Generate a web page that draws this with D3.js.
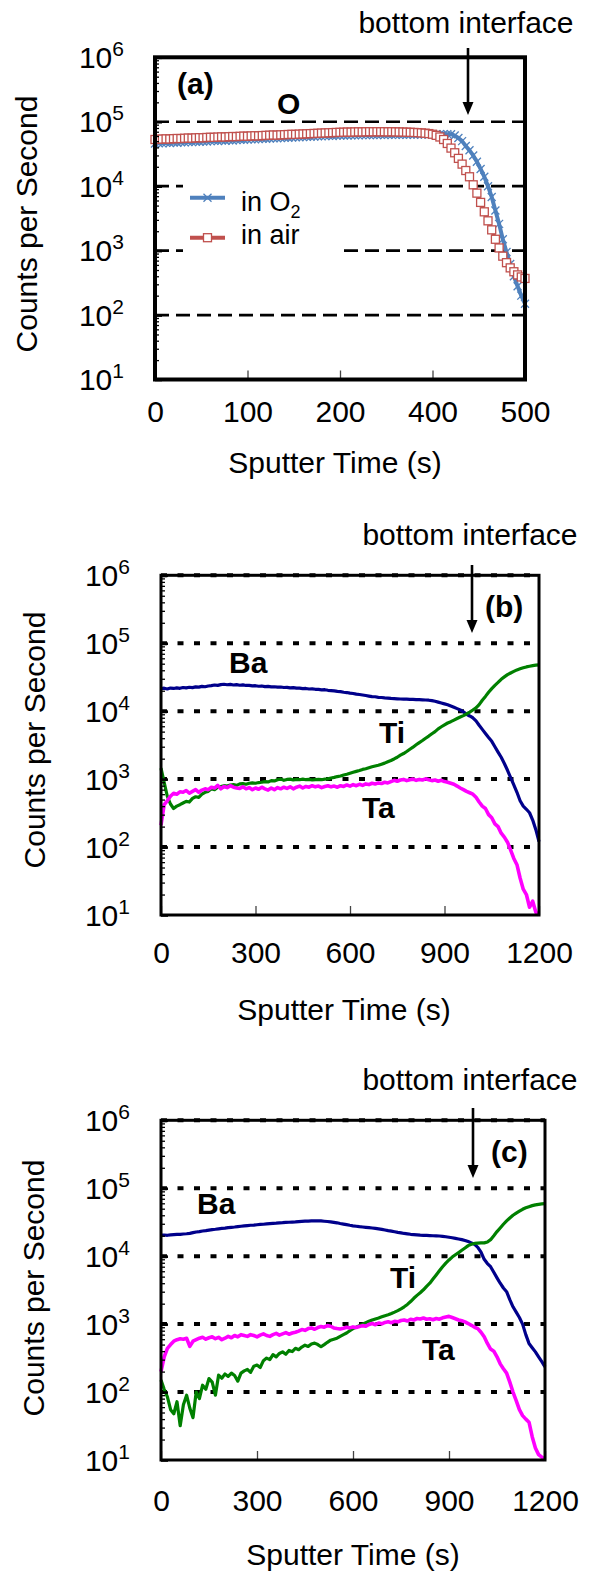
<!DOCTYPE html>
<html><head><meta charset="utf-8">
<script src="https://cdn.jsdelivr.net/npm/d3@7"></script>
<style>body{margin:0;background:#fff}svg{display:block}</style>
</head><body><svg id="chart" width="592" height="1575"></svg>
<script>
// ---------------- DATA ----------------
const tickLabelsA = ["0","100","200","400","500"];
const tickLabelsBC = ["0","300","600","900","1200"];
const yExponents = [1,2,3,4,5,6];
const axisTitleX = "Sputter Time (s)";
const axisTitleY = "Counts per Second";

const timeA = [0,5,10,15,20,25,30,35,40,45,50,55,60,65,70,75,80,85,90,95,100,105,110,115,120,125,130,135,140,145,150,155,160,165,170,175,180,185,190,195,200,205,210,215,220,225,230,235,240,245,250,255,260,265,270,275,280,285,290,295,300,305,310,315,320,325,330,335,340,345,350,355,360,365,370,375,380,385,390,395,400,405,410,415,420,425,430,435,440,445,450,455,460,465,470,475,480,485,490,495,500];
const oInO2 = [46000,46500,46200,47000,46800,47500,47300,48000,47800,48500,48300,
 49000,48800,49500,49300,50000,50500,50300,51000,50800,51500,
 51300,52000,52500,52300,53000,53500,53300,54000,54500,54300,
 55000,55500,55300,56000,56500,56300,57000,57500,57300,58000,
 58500,58300,59000,59500,59300,60000,60300,60100,60800,61000,
 61300,61100,61600,61800,61500,62000,62200,62000,62400,62200,
 62500,62300,62700,62500,62800,62600,63000,62800,63200,63000,
 63300,63100,63500,63300,63600,63800,64000,64300,64200,64000,
 61000,56000,50000,42000,36000,30000,24000,18500,14000,10000,
 6800,4200,2600,1500,950,620,400,280,200,150];
const oInAir = [53000,53500,53800,54200,54000,54600,55000,54800,55400,55800,55600,
 56200,56600,56400,57000,57400,57200,57800,58200,58000,58600,
 59000,58800,59400,59800,59600,60200,60600,60400,61000,61400,
 61800,62200,62000,62600,63000,63400,63800,63600,64200,64600,
 65000,65400,65800,66200,66600,67000,67400,67800,68200,68500,
 68800,69100,69000,69400,69600,69500,69800,70000,69800,70000,
 69800,70000,69700,69900,69600,69400,69200,68900,68600,68200,
 67800,67200,66500,65500,64000,61500,58000,53000,46000,39000,
 33000,27000,22000,17500,14000,10500,7800,5600,4000,2900,
 2100,1500,1100,820,650,540,470,420,390,370];

const timeBC = [0,10,20,30,40,50,60,70,80,90,100,110,120,130,140,150,160,170,180,190,200,210,220,230,240,250,260,270,280,290,300,310,320,330,340,350,360,370,380,390,400,410,420,430,440,450,460,470,480,490,500,510,520,530,540,550,560,570,580,590,600,610,620,630,640,650,660,670,680,690,700,710,720,730,740,750,760,770,780,790,800,810,820,830,840,850,860,870,880,890,900,910,920,930,940,950,960,970,980,990,1000,1010,1020,1030,1040,1050,1060,1070,1080,1090,1100,1110,1120,1130,1140,1150,1160,1170,1180,1190,1200];

const baB = [21500,21800,21200,21900,21600,22000,21700,22300,22000,22500,
 22200,22800,22600,23200,22900,23500,23800,24300,24000,24600,
 24900,24500,24800,24300,24600,24100,24400,23900,24000,23600,
 23700,23300,23500,23000,23200,22800,22900,22600,22700,22300,
 22400,22000,22200,21800,21900,21500,21600,21200,21300,21000,
 20900,20600,20700,20300,20100,19900,19600,19400,19000,18800,
 18400,18200,17800,17600,17300,17000,16700,16400,16300,16000,
 15900,15700,15600,15400,15300,15200,15100,15000,15000,14900,
 14900,14800,14800,14700,14600,14500,14300,14000,13600,13200,
 12800,12400,11900,11400,10900,10400,9800,9000,8500,8000,
 7200,6200,5400,4700,4100,3600,3000,2500,2100,1700,
 1350,1050,820,640,480,400,360,320,250,180,
 120];
const tiB = [1450,900,560,430,370,400,420,445,470,460,
 520,550,540,600,640,660,720,700,760,780,
 800,790,820,830,810,850,860,840,870,880,
 870,890,900,920,910,950,940,980,1000,960,
 990,1000,970,990,980,1000,980,990,970,985,
 990,980,1000,1010,1040,1060,1090,1110,1150,1180,
 1220,1260,1300,1340,1390,1420,1470,1520,1560,1600,
 1660,1720,1800,1880,1980,2100,2250,2380,2550,2750,
 2950,3200,3450,3700,4000,4300,4650,5000,5500,5900,
 6300,6700,7000,7400,7800,8200,8600,9100,9700,10400,
 11200,12500,14500,16500,19000,21500,24000,26500,29500,32000,
 34500,36500,38500,40500,42000,43500,44800,45800,46800,47500,
 48000];
const taB = [210,420,480,560,620,600,650,640,680,620,
 660,700,640,690,720,700,760,740,810,720,
 780,750,800,760,740,730,770,720,750,700,
 740,710,760,720,690,740,700,750,720,760,
 730,770,720,760,790,740,780,760,800,770,
 790,750,780,800,770,790,760,800,780,820,
 790,830,800,840,810,850,830,870,850,880,
 860,900,880,920,960,930,970,990,950,980,
 1000,960,990,970,1010,980,950,970,930,960,
 920,900,870,840,790,740,700,660,630,600,
 540,460,400,370,300,270,220,200,160,140,
 118,90,68,55,35,24,20,13,16,11,
 10];

const baC = [20400,20500,20300,20600,20800,21000,20900,21200,21400,21700,
 22200,22700,23000,23500,23800,24200,24600,24900,25300,25600,
 25900,26300,26600,26900,27300,27600,27900,28200,28500,28700,
 29000,29300,29500,29800,30100,30400,30600,30900,31100,31400,
 31600,31800,32000,32300,32500,32700,32800,33000,33100,33100,
 33000,32700,32400,32000,31500,31000,30300,29700,29100,28500,
 28000,27600,27200,26900,26600,26300,26000,25600,25200,24800,
 24300,23800,23400,22900,22400,22000,21600,21300,21000,20800,
 20600,20400,20300,20200,20100,20000,19900,19800,19600,19300,
 19000,18700,18300,17900,17500,17000,16400,15700,14900,13500,
 11500,9000,7800,7000,5800,4800,4000,3400,3000,2300,
 1800,1500,1250,1000,700,520,450,390,330,280,
 235];
const tiC = [150,110,85,55,48,72,32,65,90,58,
 42,100,80,126,110,158,140,90,178,160,
 185,170,190,175,145,190,205,215,195,240,
 250,230,290,316,300,355,330,370,390,360,
 410,395,440,420,460,490,470,510,525,500,
 465,500,540,580,600,620,660,700,740,800,
 860,900,950,1000,1050,1100,1150,1190,1230,1280,
 1330,1370,1430,1500,1580,1680,1800,1950,2150,2400,
 2650,2900,3200,3600,4000,4600,5300,6100,7000,7900,
 8800,9700,10500,11300,12200,13200,14300,15000,15400,15600,
 15700,15700,16200,17500,20000,23000,26000,29500,33000,36500,
 40000,43000,46000,49000,51500,53500,55500,57000,58000,58800,
 59200];
const taC = [200,330,440,500,560,590,610,600,620,470,
 560,590,620,640,600,630,650,610,640,590,
 620,660,630,680,650,700,680,660,700,680,
 650,690,720,680,660,700,730,690,720,750,
 710,740,760,790,830,810,860,880,840,890,
 920,900,950,930,880,860,850,870,900,880,
 910,890,920,950,930,990,1020,980,1040,1010,
 1060,1080,1050,1100,1080,1130,1150,1110,1180,1150,
 1210,1190,1230,1180,1200,1160,1210,1180,1240,1270,
 1300,1250,1200,1150,1120,1080,1020,960,900,860,
 760,650,520,430,400,330,260,220,190,140,
 100,75,55,45,40,36,22,15,12,11,
 10];

// ---------------- DRAWING ----------------
const FONT = '"Liberation Sans", Arial, Helvetica, sans-serif';
const svg = d3.select("#chart");
svg.append("rect").attr("width",592).attr("height",1575).attr("fill","#fff");

const majorVals = yExponents.map(e => Math.pow(10, e));
const minorVals = [];
yExponents.slice(0, -1).forEach(e => { for (let k = 2; k <= 9; k++) minorVals.push(k * Math.pow(10, e)); });

function drawPanel(c) {
  const x = d3.scaleLinear().domain(c.xDomain).range([c.left, c.right]);
  const y = d3.scaleLog().domain([10, 1e6]).range([c.bottom, c.top]);
  const g = svg.append("g");

  // gridlines
  g.append("g").selectAll("line").data(c.grid).join("line")
    .attr("x1", c.left).attr("x2", c.right)
    .attr("y1", d => y(d)).attr("y2", d => y(d))
    .attr("stroke", "#000").attr("stroke-width", c.gridW)
    .attr("stroke-dasharray", c.dash);

  if (c.legend) c.legend(g);

  // series
  c.series.forEach(s => {
    const pts = s.t.map((t, i) => [t, s.v[i]]);
    g.append("path").datum(pts)
      .attr("fill", "none").attr("stroke", s.color).attr("stroke-width", s.w)
      .attr("stroke-linejoin", "round")
      .attr("d", d3.line().x(d => x(d[0])).y(d => y(d[1])));
    if (s.marker === "x") {
      g.append("g").selectAll("path").data(pts).join("path")
        .attr("transform", d => `translate(${x(d[0])},${y(d[1])})`)
        .attr("d", "M-4,-4L4,4M-4,4L4,-4")
        .attr("stroke", s.color).attr("stroke-width", 1.3).attr("fill", "none");
    } else if (s.marker === "square") {
      g.append("g").selectAll("rect").data(pts).join("rect")
        .attr("x", d => x(d[0]) - 4).attr("y", d => y(d[1]) - 4)
        .attr("width", 8).attr("height", 8)
        .attr("fill", "#fff").attr("stroke", s.color).attr("stroke-width", 1.3);
    }
  });

  // y axis ticks (inside)
  g.append("g").attr("transform", `translate(${c.left},0)`)
    .call(d3.axisLeft(y).tickValues(minorVals).tickSize(-4).tickFormat(""))
    .call(a => a.select(".domain").remove())
    .selectAll("line").attr("stroke", "#000").attr("stroke-width", 1.3);
  g.append("g").attr("transform", `translate(${c.left},0)`)
    .call(d3.axisLeft(y).tickValues(majorVals).tickSize(-7).tickFormat(""))
    .call(a => a.select(".domain").remove())
    .selectAll("line").attr("stroke", "#000").attr("stroke-width", 2.6);

  // x axis
  const xa = g.append("g").attr("transform", `translate(0,${c.bottom})`)
    .call(d3.axisBottom(x).tickValues(c.xTicks).tickSize(-9).tickPadding(c.pad)
      .tickFormat((d, i) => c.xLabels[i]))
    .call(a => a.select(".domain").remove());
  xa.attr("font-family", FONT).attr("font-size", 30);
  xa.selectAll("line").attr("stroke", "#444").attr("stroke-width", 1.3);
  xa.selectAll("text").attr("fill", "#000");

  // frame
  g.append("rect").attr("x", c.left).attr("y", c.top)
    .attr("width", c.right - c.left).attr("height", c.bottom - c.top)
    .attr("fill", "none").attr("stroke", "#000").attr("stroke-width", c.frameW);

  // y tick labels 10^n
  const yl = g.append("g").selectAll("text").data(yExponents).join("text")
    .attr("x", c.left - 31).attr("y", e => y(Math.pow(10, e)) + 10.5)
    .attr("text-anchor", "end").attr("font-family", FONT).attr("font-size", 30);
  yl.append("tspan").text("10");
  yl.append("tspan").attr("dy", -12).attr("font-size", 21).text(e => e);

  // axis titles
  g.append("text").attr("x", c.xTitleX).attr("y", c.xTitleY)
    .attr("text-anchor", "middle").attr("font-family", FONT).attr("font-size", 30)
    .text(axisTitleX);
  g.append("text").attr("transform", `translate(${c.yTitleX},${c.yTitleY}) rotate(-90)`)
    .attr("text-anchor", "middle").attr("font-family", FONT).attr("font-size", 30)
    .text(axisTitleY);

  // "bottom interface" + arrow
  g.append("text").attr("x", c.biX).attr("y", c.biY)
    .attr("text-anchor", "middle").attr("font-family", FONT).attr("font-size", 30)
    .text("bottom interface");
  g.append("line").attr("x1", c.arX).attr("x2", c.arX).attr("y1", c.arY1).attr("y2", c.arY2 - 11)
    .attr("stroke", "#000").attr("stroke-width", 2.6);
  g.append("path")
    .attr("d", `M${c.arX - 5.5},${c.arY2 - 13}L${c.arX + 5.5},${c.arY2 - 13}L${c.arX},${c.arY2}Z`)
    .attr("fill", "#000");

  // bold labels
  c.labels.forEach(l => {
    g.append("text").attr("x", l[1]).attr("y", l[2])
      .attr("font-family", FONT).attr("font-size", 30).attr("font-weight", "bold")
      .text(l[0]);
  });
}

// Panel (a)
drawPanel({
  left: 155, right: 525, top: 57.3, bottom: 379.5,
  xDomain: [0, 500], xTicks: [0, 125, 250, 375, 500], xLabels: tickLabelsA, pad: 21,
  grid: [1e2, 1e3, 1e4, 1e5], gridW: 2.7, dash: "14,7", frameW: 4,
  series: [
    { t: timeA, v: oInO2, color: "#4F81BD", w: 4, marker: "x" },
    { t: timeA, v: oInAir, color: "#C0504D", w: 4, marker: "square" }
  ],
  legend: g => {
    g.append("rect").attr("x", 183).attr("y", 180).attr("width", 155).attr("height", 76).attr("fill", "#fff");
    g.append("line").attr("x1", 190).attr("x2", 225).attr("y1", 197.7).attr("y2", 197.7)
      .attr("stroke", "#4F81BD").attr("stroke-width", 4);
    g.append("path").attr("d", "M203.5,193.7L211.5,201.7M203.5,201.7L211.5,193.7")
      .attr("stroke", "#4F81BD").attr("stroke-width", 1.3);
    g.append("line").attr("x1", 190).attr("x2", 225).attr("y1", 237.7).attr("y2", 237.7)
      .attr("stroke", "#C0504D").attr("stroke-width", 4);
    g.append("rect").attr("x", 203.5).attr("y", 233.7).attr("width", 8).attr("height", 8)
      .attr("fill", "#fff").attr("stroke", "#C0504D").attr("stroke-width", 1.3);
    const t1 = g.append("text").attr("x", 241).attr("y", 211).attr("font-family", FONT).attr("font-size", 27);
    t1.append("tspan").text("in O");
    t1.append("tspan").attr("dy", 7).attr("font-size", 18).text("2");
    g.append("text").attr("x", 241).attr("y", 244).attr("font-family", FONT).attr("font-size", 27).text("in air");
  },
  xTitleX: 335, xTitleY: 473, yTitleX: 37, yTitleY: 224,
  biX: 466, biY: 33, arX: 468, arY1: 48, arY2: 115,
  labels: [["(a)", 177, 94], ["O", 277, 114]]
});

// Panel (b)
drawPanel({
  left: 161, right: 539, top: 575.3, bottom: 915,
  xDomain: [0, 1200], xTicks: [0, 300, 600, 900, 1200], xLabels: tickLabelsBC, pad: 27,
  grid: [1e2, 1e3, 1e4, 1e5, 1e6], gridW: 4, dash: "6,10.5", frameW: 3,
  series: [
    { t: timeBC, v: baB, color: "#00008B", w: 3.2 },
    { t: timeBC, v: tiB, color: "#008000", w: 3.2 },
    { t: timeBC, v: taB, color: "#FF00FF", w: 3.6 }
  ],
  xTitleX: 344, xTitleY: 1020, yTitleX: 45, yTitleY: 740,
  biX: 470, biY: 545, arX: 472, arY1: 565, arY2: 633,
  labels: [["(b)", 485, 617], ["Ba", 229, 673], ["Ti", 379, 743], ["Ta", 362, 818]]
});

// Panel (c)
drawPanel({
  left: 161, right: 545, top: 1120.3, bottom: 1460,
  xDomain: [0, 1200], xTicks: [0, 300, 600, 900, 1200], xLabels: tickLabelsBC, pad: 30,
  grid: [1e2, 1e3, 1e4, 1e5, 1e6], gridW: 4, dash: "6,10.5", frameW: 3,
  series: [
    { t: timeBC, v: baC, color: "#00008B", w: 3.2 },
    { t: timeBC, v: tiC, color: "#008000", w: 3.2 },
    { t: timeBC, v: taC, color: "#FF00FF", w: 3.6 }
  ],
  xTitleX: 353, xTitleY: 1565, yTitleX: 44, yTitleY: 1288,
  biX: 470, biY: 1090, arX: 473, arY1: 1108, arY2: 1178,
  labels: [["(c)", 491, 1162], ["Ba", 197, 1214], ["Ti", 390, 1288], ["Ta", 422, 1360]]
});
</script></body></html>
